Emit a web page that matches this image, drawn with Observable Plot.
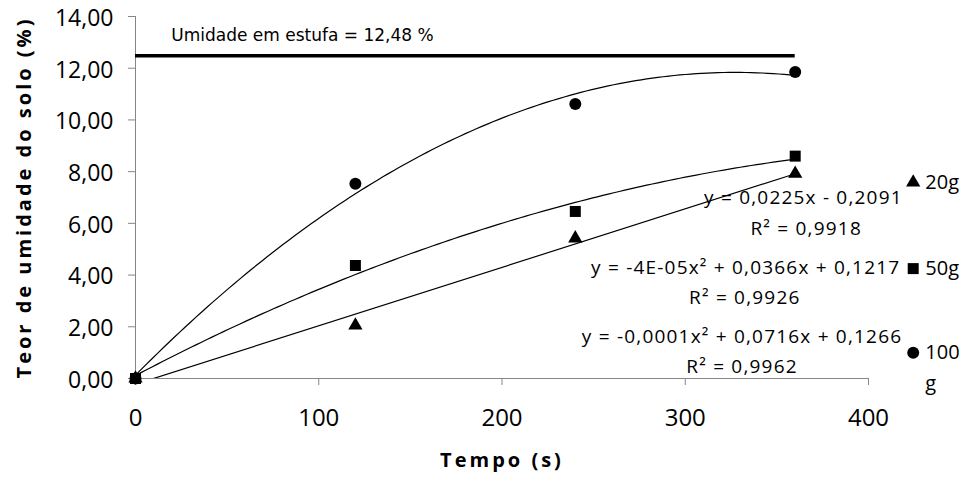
<!DOCTYPE html>
<html>
<head>
<meta charset="utf-8">
<script src="https://cdn.jsdelivr.net/npm/d3@7"></script>
<script src="https://cdn.jsdelivr.net/npm/@observablehq/plot@0.6"></script>
<style>
  html, body { margin: 0; padding: 0; background: #fff; }
</style>
</head>
<body>
<div id="chart"></div>
<script>
// ---- data ----
const tempo = [0, 120, 240, 360];
const umid20 = [0, 2.05, 5.42, 7.92];
const umid50 = [0, 4.37, 6.46, 8.6];
const umid100 = [0, 7.53, 10.62, 11.85];
const umidadeEstufa = 12.48;
const xTicks = [0, 100, 200, 300, 400];
const yTicks = [0, 2, 4, 6, 8, 10, 12, 14];
const seriesNames = ["20g", "50g", "100 g"];
const equations20 = ["y = 0,0225x - 0,2091", "R² = 0,9918"];
const equations50 = ["y = -4E-05x² + 0,0366x + 0,1217", "R² = 0,9926"];
const equations100 = ["y = -0,0001x² + 0,0716x + 0,1266", "R² = 0,9962"];
const refLabel = "Umidade em estufa = 12,48 %";
const yTitle = "Teor de umidade do solo (%)";
const xTitle = "Tempo (s)";

// ---- helpers ----
const rows = (ys, name) => tempo.map((t, i) => ({t, v: ys[i], name}));
const d20 = rows(umid20, seriesNames[0]);
const d50 = rows(umid50, seriesNames[1]);
const d100 = rows(umid100, seriesNames[2]);

// least-squares 2nd order polynomial (Excel-style trendline)
function polyFit2(xs, ys) {
  const S = [0, 0, 0, 0, 0], T = [0, 0, 0];
  xs.forEach((x, i) => {
    for (let k = 0; k < 5; k++) S[k] += x ** k;
    for (let k = 0; k < 3; k++) T[k] += ys[i] * x ** k;
  });
  const M = [[S[0], S[1], S[2], T[0]], [S[1], S[2], S[3], T[1]], [S[2], S[3], S[4], T[2]]];
  for (let i = 0; i < 3; i++) {
    for (let j = i + 1; j < 3; j++) {
      const f = M[j][i] / M[i][i];
      for (let k = i; k < 4; k++) M[j][k] -= f * M[i][k];
    }
  }
  const c = [0, 0, 0];
  for (let i = 2; i >= 0; i--) {
    let s = M[i][3];
    for (let k = i + 1; k < 3; k++) s -= M[i][k] * c[k];
    c[i] = s / M[i][i];
  }
  return c;
}
function trend(ys) {
  const c = polyFit2(tempo, ys);
  return d3.range(0, 361, 3).map(t => ({t, v: c[0] + c[1] * t + c[2] * t * t}));
}
const trend50 = trend(umid50);
const trend100 = trend(umid100);

const fmt = d => d.toFixed(2).replace(".", ",");
const legend = [
  {name: seriesNames[0], sym: "triangle", r: 5.3, v: 7.58},
  {name: seriesNames[1], sym: "square", r: 6.2, v: 4.25},
  {name: seriesNames[2], sym: "circle", r: 6, v: 1.0}
];
const eqs = [
  {t: 364.5, v: 7.0, s: equations20[0]},
  {t: 366, v: 5.8, s: equations20[1]},
  {t: 333, v: 4.29, s: equations50[0]},
  {t: 332.5, v: 3.13, s: equations50[1]},
  {t: 331, v: 1.62, s: equations100[0]},
  {t: 331, v: 0.46, s: equations100[1]}
];

const chart = Plot.plot({
  width: 968,
  height: 479,
  marginLeft: 135,
  marginRight: 100,
  marginTop: 16,
  marginBottom: 101,
  x: {domain: [0, 400]},
  y: {domain: [0, 14]},
  r: {type: "identity"},
  style: {fontFamily: "'Open Sans', sans-serif", background: "white", color: "black"},
  marks: [
    Plot.ruleX([0], {y1: 0, y2: 14, stroke: "#868686", strokeWidth: 1}),
    Plot.ruleY([0], {x1: 0, x2: 400, stroke: "#868686", strokeWidth: 1}),
    // y ticks (no text) + y tick labels (slightly lowered, as in the reference)
    Plot.axisY({ticks: yTicks, tickSize: 7, tickFormat: () => "", stroke: "#868686", label: null}),
    Plot.axisY({ticks: yTicks, tickSize: 0, tickPadding: 22, tickFormat: fmt, fill: "black", fontSize: 23, dy: 2, label: null}),
    Plot.axisX({ticks: xTicks, tickSize: 7, tickPadding: 23, stroke: "#868686", fill: "black", fontSize: 24, label: null}),
    // oven moisture reference
    Plot.ruleY([umidadeEstufa], {x1: 0, x2: 360, stroke: "black", strokeWidth: 3.5}),
    Plot.text([refLabel], {x: 19.5, y: 13.27, textAnchor: "start", fontSize: 17, fontFamily: "'DejaVu Sans', sans-serif"}),
    // trendlines
    Plot.linearRegressionY(d20, {x: "t", y: "v", ci: 0, stroke: "black", strokeWidth: 1.2, clip: true}),
    Plot.line(trend50, {x: "t", y: "v", stroke: "black", strokeWidth: 1.2}),
    Plot.line(trend100, {x: "t", y: "v", stroke: "black", strokeWidth: 1.2}),
    // points
    Plot.dot(d100, {x: "t", y: "v", symbol: "circle", r: 6, fill: "black"}),
    Plot.dot(d20, {x: "t", y: "v", symbol: "triangle", r: 5.3, fill: "black"}),
    Plot.dot(d50, {x: "t", y: "v", symbol: "square", r: 6.2, fill: "black"}),
    // equations
    Plot.text(eqs, {x: "t", y: "v", text: "s", fontSize: 19, textAnchor: "middle"}),
    // legend
    Plot.dot(legend, {x: 424.4, y: "v", symbol: "sym", r: "r", fill: "black"}),
    Plot.text(legend, {x: 431, y: "v", text: "name", textAnchor: "start", lineAnchor: "top", dy: -16, lineWidth: 2, lineHeight: 1.55, fontSize: 20}),
    // axis titles
    Plot.text([yTitle], {frameAnchor: "left", textAnchor: "middle", rotate: -90, dx: -111, fontSize: 20, fontWeight: "bold"}),
    Plot.text([xTitle], {frameAnchor: "bottom", textAnchor: "middle", dy: 88, fontSize: 20, fontWeight: "bold"})
  ]
});
document.getElementById("chart").appendChild(chart);

// letter spacing to match the reference's spaced-out texts
const eqStrings = [...equations20, ...equations50, ...equations100];
d3.select(chart).selectAll("text").each(function () {
  const t = this.textContent;
  if (eqStrings.includes(t)) this.style.letterSpacing = "1.2px";
  if (t === yTitle || t === xTitle) this.style.letterSpacing = "3px";
});
</script>
</body>
</html>
